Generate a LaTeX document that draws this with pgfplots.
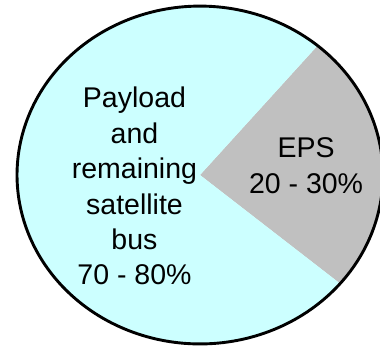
\documentclass[border=0pt]{standalone}
\usepackage{pgfplots}
\pgfplotsset{compat=1.18}
\usepackage{fontspec}
\setmainfont{Liberation Sans}
\definecolor{payload}{HTML}{CCFFFF}
\definecolor{eps}{HTML}{C0C0C0}
% shares (percent)
\def\epsshare{25}
\def\payloadshare{75}
\def\startangle{-40}
\begin{document}
\begin{tikzpicture}
\pgfmathsetmacro{\epsend}{\startangle+3.6*\epsshare}
\pgfmathsetmacro{\payend}{\epsend+3.6*\payloadshare}
\begin{axis}[
  hide axis, scale only axis,
  width=380pt, height=347pt,
  xmin=-1.093, xmax=0.984, ymin=-1.018, ymax=1.036,
  clip=true,
]
\addplot[fill=eps, draw=none, domain=\startangle:\epsend, samples=60]
  ({cos(x)},{sin(x)}) -- (axis cs:0,0) -- cycle;
\addplot[fill=payload, draw=none, domain=\epsend:\payend, samples=160]
  ({cos(x)},{sin(x)}) -- (axis cs:0,0) -- cycle;
\addplot[black, line width=2.9pt, domain=0:360, samples=240] ({cos(x)},{sin(x)});
\node[align=center, anchor=base, font=\fontsize{28.5}{35.4}\selectfont]
  at (axis cs:-0.358,-0.651) {Payload\\and\\remaining\\satellite\\bus\\70 - 80\%};
\node[align=center, anchor=base, font=\fontsize{28.5}{35.4}\selectfont]
  at (axis cs:0.58,-0.107) {EPS\\20 - 30\%};
\end{axis}
\pgfresetboundingbox
\path[use as bounding box] (current axis.south west) rectangle (current axis.north east);
\end{tikzpicture}
\end{document}
